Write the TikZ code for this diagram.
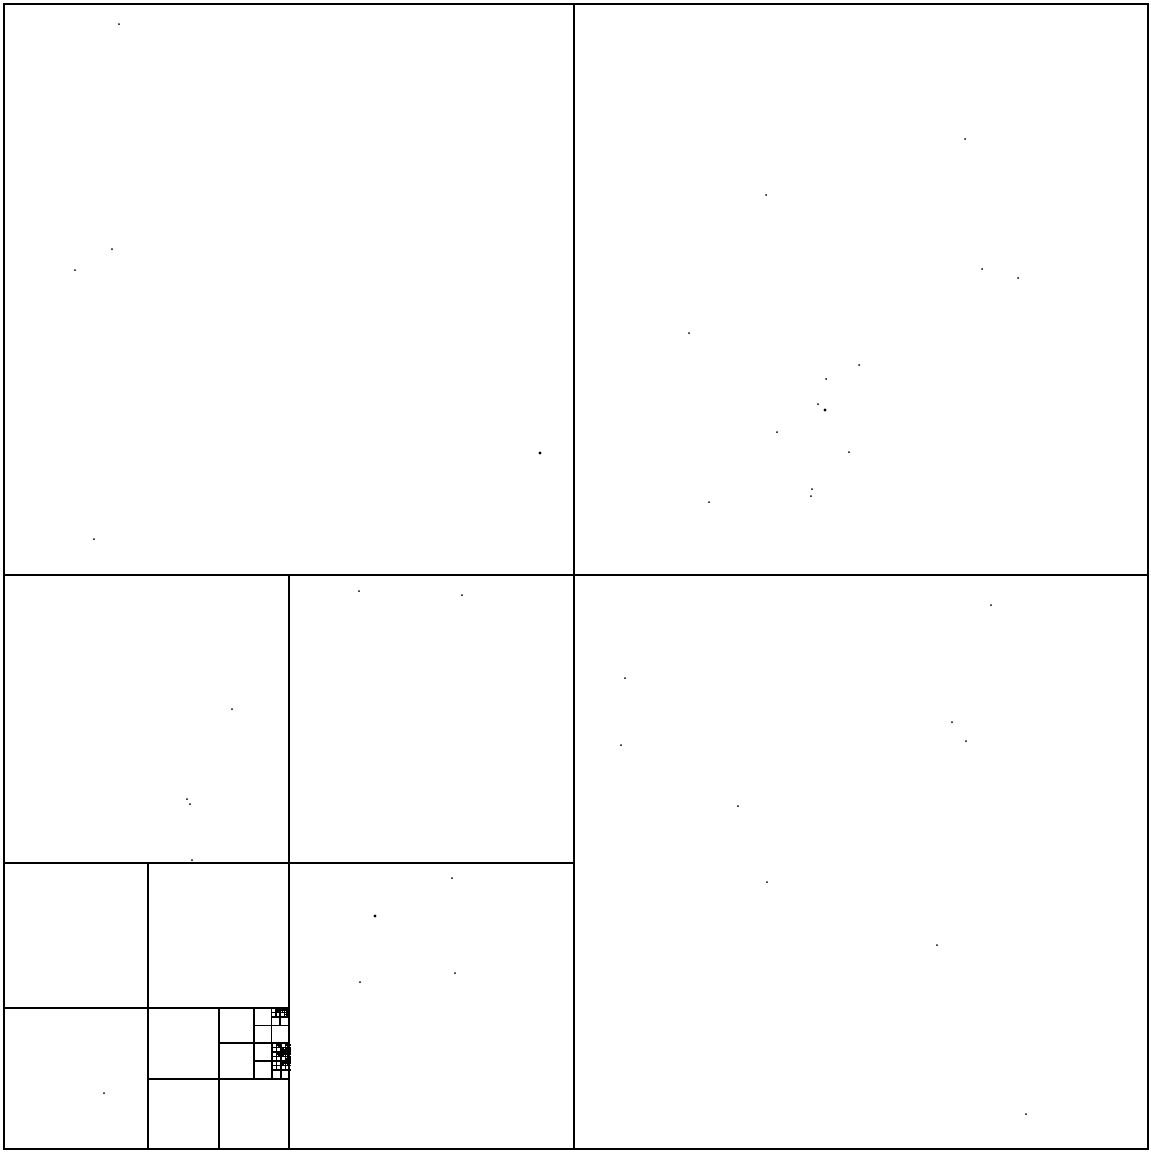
\documentclass[tikz,border=0pt]{standalone}
\usetikzlibrary{calc}

% cross through the middle of the square at (#1,#2) with side #3
\newcommand{\qsplit}[3]{%
  \draw[qline] ({#1+#3/2},#2) -- ++(0,#3) (#1,{#2+#3/2}) -- ++(#3,0);}

\begin{document}
\begin{tikzpicture}[x=1pt, y=-1pt, line cap=rect,
    bigline/.style={line width=2.6pt},
    midline/.style={line width=2.1pt},
    qline/.style={line width=1.7pt},
    pt/.style={black}]
  \useasboundingbox (0,0) rectangle (1151,1152);
  \fill[white] (0,0) rectangle (1151,1152);

  % root square and first split
  \draw[bigline] (4,4) rectangle (1148,1149);
  \draw[bigline] (574,4) -- (574,1149);
  \draw[bigline] (4,575) -- (1148,575);

  % lower left quadrant
  \draw[midline] (289,575) -- (289,1149);
  \draw[midline] (4,863) -- (574,863);

  % its lower left part
  \draw[midline] (148,863) -- (148,1149);
  \draw[midline] (4,1008) -- (289,1008);

  % down to the corner
  \draw[midline] (219,1008) -- (219,1149);
  \draw[midline] (148,1079) -- (289,1079);
  \draw[midline] (254,1008) -- (254,1079);
  \draw[midline] (219,1043) -- (289,1043);

  % fine cells near the corner
  \qsplit{254}{1008}{35}
  \qsplit{254}{1043}{36}
  \foreach \cx/\cy/\cs in {271.5/1008/17.5, 271.5/1008/8.75, 280.25/1008/8.75,
      284.625/1008/4.375, 280.25/1008/4.375, 275.875/1008/4.375,
      284.625/1012.375/4.375, 284.625/1008/2.19, 286.8/1008/2.19}
    {\qsplit{\cx}{\cy}{\cs}}
  \foreach \cx/\cy/\cs in {272/1043/18, 272/1043/9, 281/1043/9, 272/1052/9, 281/1052/9,
      285.5/1043/4.5, 285.5/1047.5/4.5, 285.5/1052/4.5, 285.5/1056.5/4.5,
      281/1047.5/4.5, 281/1052/4.5, 276.5/1052/4.5, 276.5/1043/4.5,
      285.5/1047.5/2.25, 287.75/1047.5/2.25, 285.5/1052/2.25, 287.75/1052/2.25,
      283.25/1052/2.25, 287.75/1056.5/2.25}
    {\qsplit{\cx}{\cy}{\cs}}
  \foreach \cx/\cy/\cs in {272/1061/18, 272/1061/9, 281/1061/9, 285.5/1061/4.5,
      281/1061/4.5, 287.75/1061/2.25}
    {\qsplit{\cx}{\cy}{\cs}}

  % sample points
  \foreach \px/\py in {119/24, 112/249, 75/270, 94/539,
      965/139, 766/195, 982/269, 1018/278, 689/333, 859/365, 826/379,
      818/404, 777/432, 849/452, 812/489, 811/496, 709/502,
      232/709, 187/799, 190/804, 359/591, 462/595, 192/860,
      452/878, 455/973, 360/982, 104/1093,
      991/605, 625/678, 952/722, 966/741, 621/745, 738/806, 767/882,
      937/945, 1026/1114}
    \fill[pt] (\px,\py) circle (1pt);
  \foreach \px/\py in {540/453, 825/410, 375/916}
    \fill[pt] (\px,\py) circle (1.7pt);

\end{tikzpicture}
\end{document}
